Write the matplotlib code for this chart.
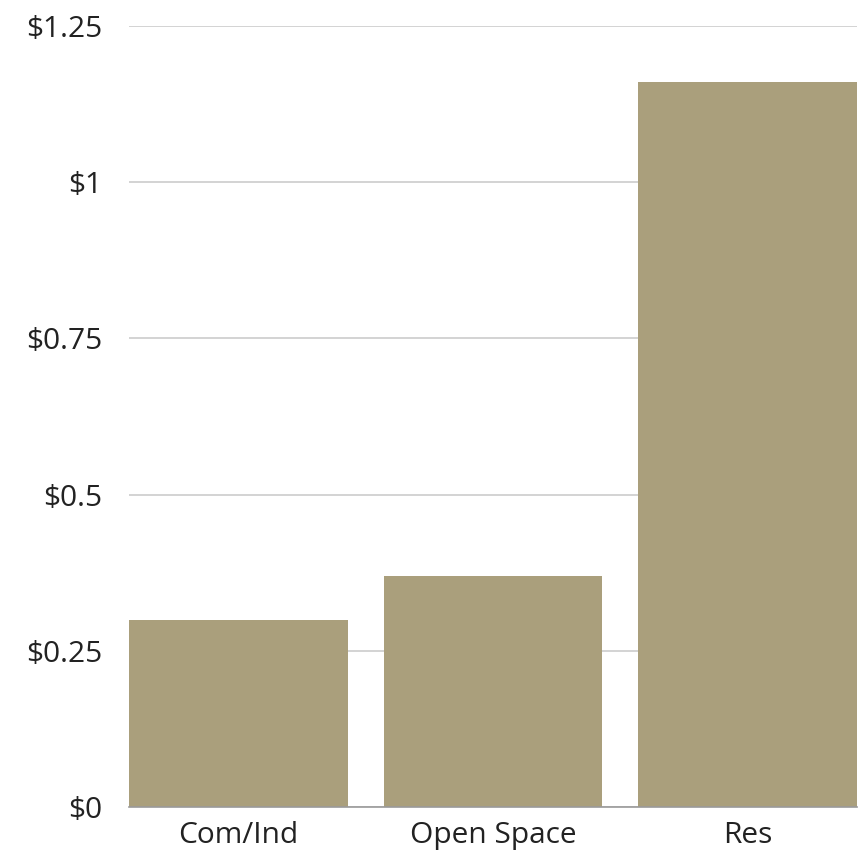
import matplotlib
matplotlib.use("Agg")
import matplotlib.pyplot as plt
from matplotlib.ticker import FixedLocator

categories = ["Com/Ind", "Open Space", "Res"]
values = [0.30, 0.37, 1.16]
y_ticks = [0, 0.25, 0.5, 0.75, 1.0, 1.25]
y_labels = ["$0", "$0.25", "$0.5", "$0.75", "$1", "$1.25"]

BAR_COLOR = "#aa9f7c"
GRID_COLOR = "#cccccc"
TEXT_COLOR = "#222222"
BAR_WIDTH = 0.858

plt.rcParams["font.family"] = ["Open Sans", "DejaVu Sans"]

W, H = 859, 860
fig = plt.figure(figsize=(W / 100, H / 100), dpi=100)
left, right = 129 / W, 857 / W
bottom, top = 1 - 807 / H, 1 - 25.75 / H
ax = fig.add_axes([left, bottom, right - left, top - bottom])

x = list(range(len(categories)))
ax.bar(x, values, width=BAR_WIDTH, color=BAR_COLOR, zorder=2)

ax.set_xlim(-BAR_WIDTH / 2, len(categories) - 1 + BAR_WIDTH / 2)
ax.set_ylim(0, 1.25)

ax.yaxis.set_major_locator(FixedLocator(y_ticks))
ax.set_yticklabels(y_labels)
ax.set_xticks(x)
ax.set_xticklabels(categories)

ax.grid(axis="y", color=GRID_COLOR, linewidth=1.2, zorder=0)
ax.set_axisbelow(True)

for s in ["top", "right", "left"]:
    ax.spines[s].set_visible(False)
ax.spines["bottom"].set_color("#9a9a9a")
ax.spines["bottom"].set_linewidth(1.2)
ax.spines["bottom"].set_zorder(3)

ax.tick_params(axis="both", length=0, labelsize=21.5, colors=TEXT_COLOR)
ax.tick_params(axis="y", pad=19)
ax.tick_params(axis="x", pad=10)

fig.savefig("out.png", dpi=100, facecolor="white")
